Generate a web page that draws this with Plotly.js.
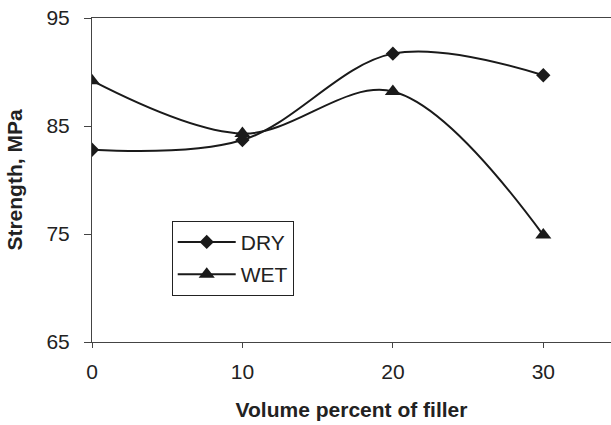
<!DOCTYPE html>
<html>
<head>
<meta charset="utf-8">
<script src="https://cdn.plot.ly/plotly-3.0.1.min.js"></script>
<style>html,body{margin:0;padding:0;background:#fff;}#chart{width:611px;height:425px;}</style>
</head>
<body>
<div id="chart"></div>
<script>
var fillerPct = [0, 10, 20, 30];
var dryStrength = [82.8, 83.7, 91.7, 89.7];
var wetStrength = [89.2, 84.3, 88.2, 74.9];
var xTicks = [0, 10, 20, 30];
var yTicks = [65, 75, 85, 95];

var ink = '#1a1a1a';
var traces = [
  {x: fillerPct, y: dryStrength, name: 'DRY', mode: 'lines+markers', legendgroup: 'dry',
   line: {shape: 'spline', smoothing: 1, color: ink, width: 2},
   marker: {symbol: 'diamond', size: 11, color: ink}},
  {x: fillerPct, y: wetStrength, name: 'WET', mode: 'lines+markers', legendgroup: 'wet',
   line: {shape: 'spline', smoothing: 1, color: ink, width: 2},
   marker: {symbol: 'triangle-up', size: 14, color: ink}}
];

var layout = {
  width: 611, height: 425,
  margin: {l: 92, r: 0, t: 18, b: 83},
  paper_bgcolor: '#fff', plot_bgcolor: '#fff',
  font: {family: 'Liberation Sans, Arial, sans-serif', size: 21, color: '#222'},
  showlegend: true,
  legend: {x: 0.1536, y: 0.374, xanchor: 'left', yanchor: 'top',
           bgcolor: '#fff', bordercolor: '#222', borderwidth: 1,
           traceorder: 'grouped', tracegroupgap: 2, itemwidth: 58,
           font: {size: 21, color: '#222'}},
  xaxis: {range: [0, 34.5], tickvals: xTicks, ticktext: xTicks.map(String),
          showgrid: false, zeroline: false, showline: true, linecolor: '#444', linewidth: 1,
          mirror: true, ticks: 'outside', ticklen: 5, tickcolor: '#444',
          ticklabelstandoff: 6,
          title: {text: '<b>Volume percent of filler</b>', font: {size: 21}, standoff: 20}},
  yaxis: {range: [65, 95], tickvals: yTicks, ticktext: yTicks.map(String),
          showgrid: false, zeroline: false, showline: true, linecolor: '#444', linewidth: 1,
          ticks: 'outside', ticklen: 7, tickcolor: '#444',
          ticklabelstandoff: 10,
          title: {text: '<b>Strength, MPa</b>', font: {size: 21}, standoff: 18}}
};

Plotly.newPlot('chart', traces, layout, {displayModeBar: false, staticPlot: true});
</script>
</body>
</html>
